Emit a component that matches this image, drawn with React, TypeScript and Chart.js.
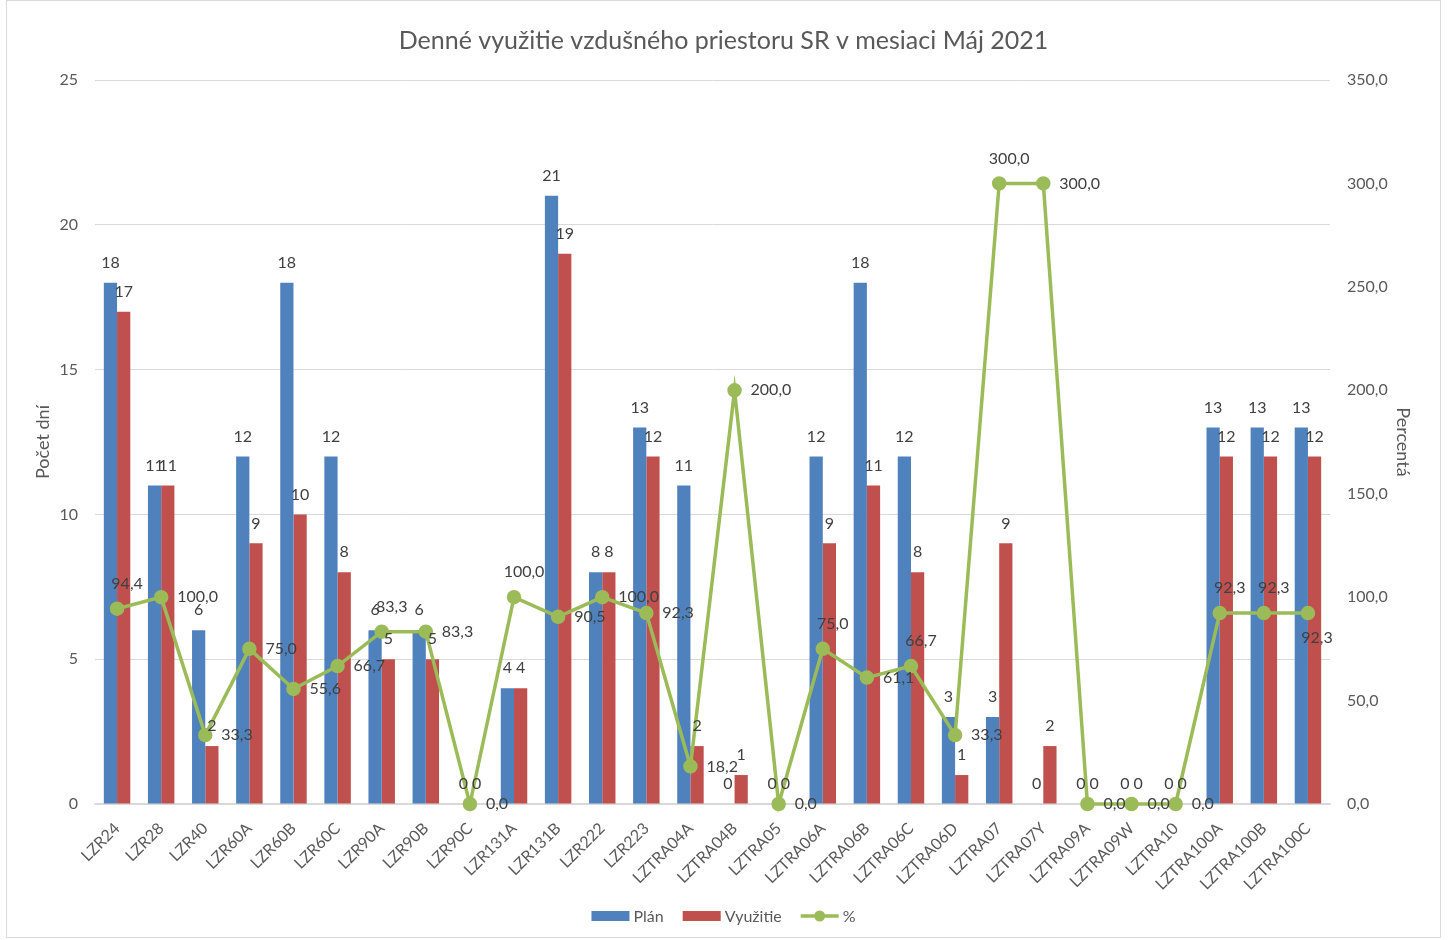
import React, { useEffect, useRef } from "react";
import { Chart, registerables } from "chart.js";

Chart.register(...registerables);

const TITLE = "Denné využitie vzdušného priestoru SR v mesiaci Máj 2021";
const LEFT_AXIS_TITLE = "Počet dní";
const RIGHT_AXIS_TITLE = "Percentá";

const CATEGORIES = [
  "LZR24", "LZR28", "LZR40", "LZR60A", "LZR60B", "LZR60C", "LZR90A", "LZR90B",
  "LZR90C", "LZR131A", "LZR131B", "LZR222", "LZR223", "LZTRA04A", "LZTRA04B",
  "LZTRA05", "LZTRA06A", "LZTRA06B", "LZTRA06C", "LZTRA06D", "LZTRA07", "LZTRA07Y",
  "LZTRA09A", "LZTRA09W", "LZTRA10", "LZTRA100A", "LZTRA100B", "LZTRA100C",
];

const PLAN = [18, 11, 6, 12, 18, 12, 6, 6, 0, 4, 21, 8, 13, 11, 0, 0, 12, 18, 12, 3, 3, 0, 0, 0, 0, 13, 13, 13];
const VYUZITIE = [17, 11, 2, 9, 10, 8, 5, 5, 0, 4, 19, 8, 12, 2, 1, 0, 9, 11, 8, 1, 9, 2, 0, 0, 0, 12, 12, 12];
const PERCENT = [94.4, 100.0, 33.3, 75.0, 55.6, 66.7, 83.3, 83.3, 0.0, 100.0, 90.5, 100.0, 92.3, 18.2, 200.0, 0.0, 75.0, 61.1, 66.7, 33.3, 300.0, 300.0, 0.0, 0.0, 0.0, 92.3, 92.3, 92.3];

// where each % label sits relative to its point
const PERCENT_LABEL_PLACE = [
  "above", "right", "right", "right", "right", "right", "above", "right",
  "right", "above", "right", "right", "right", "right", "right",
  "right", "above", "right", "above", "right", "above", "right",
  "right", "right", "right", "above", "above", "below",
];

const LEFT_MAX = 25;
const LEFT_STEP = 5;
const RIGHT_MAX = 350;
const RIGHT_STEP = 50;

const SERIES_NAMES = ["Plán", "Využitie", "%"];
const COLORS = ["#4F81BD", "#C0504D", "#9BBB59"];

const FONT = "Lato, 'Open Sans', sans-serif";
const TEXT = "#595959";
const LABEL = "#404040";
const GRID = "#d9d9d9";

const fmt1 = (v: number) => v.toFixed(1).replace(".", ",");

const overlayPlugin = {
  id: "overlay",
  afterDatasetsDraw(chart: any) {
    const ctx = chart.ctx;
    ctx.save();
    ctx.font = `16px ${FONT}`;
    ctx.fillStyle = LABEL;
    ctx.textBaseline = "middle";
    // bar labels
    for (let d = 0; d < 2; d++) {
      const meta = chart.getDatasetMeta(d);
      const data = chart.data.datasets[d].data as number[];
      meta.data.forEach((el: any, i: number) => {
        ctx.textAlign = "center";
        ctx.fillText(String(data[i]), el.x, el.y - 20);
      });
    }
    // line labels
    const lmeta = chart.getDatasetMeta(2);
    const ldata = chart.data.datasets[2].data as number[];
    lmeta.data.forEach((el: any, i: number) => {
      const place = PERCENT_LABEL_PLACE[i];
      const txt = fmt1(ldata[i]);
      if (place === "above") {
        ctx.textAlign = "center";
        ctx.fillText(txt, el.x + 10, el.y - 25);
      } else if (place === "below") {
        ctx.textAlign = "center";
        ctx.fillText(txt, el.x + 9, el.y + 25);
      } else {
        ctx.textAlign = "left";
        ctx.fillText(txt, el.x + 16, el.y);
      }
    });
    ctx.restore();
  },
  afterDraw(chart: any) {
    const ctx = chart.ctx;
    const W = chart.width;
    ctx.save();
    // title
    ctx.fillStyle = TEXT;
    ctx.font = `25px ${FONT}`;
    ctx.textAlign = "center";
    ctx.textBaseline = "middle";
    ctx.fillText(TITLE, W / 2, 40);

    // axis titles
    ctx.font = `18px ${FONT}`;
    ctx.save();
    ctx.translate(36, 441);
    ctx.rotate(-Math.PI / 2);
    ctx.fillText(LEFT_AXIS_TITLE, 0, 0);
    ctx.restore();
    ctx.save();
    ctx.translate(1396, 441);
    ctx.rotate(Math.PI / 2);
    ctx.fillText(RIGHT_AXIS_TITLE, 0, 0);
    ctx.restore();

    // legend
    ctx.font = `16px ${FONT}`;
    ctx.textAlign = "left";
    const box = 38;
    const gap = 4;
    const itemGap = 19;
    const widths = SERIES_NAMES.map((n) => box + gap + ctx.measureText(n).width);
    const total = widths.reduce((a, b) => a + b, 0) + itemGap * (SERIES_NAMES.length - 1);
    let x = W / 2 - total / 2;
    const y = 915;
    SERIES_NAMES.forEach((name, i) => {
      ctx.fillStyle = COLORS[i];
      ctx.strokeStyle = COLORS[i];
      if (i < 2) {
        ctx.fillRect(x, y - 5, box, 10);
      } else {
        ctx.lineWidth = 3.5;
        ctx.beginPath();
        ctx.moveTo(x, y);
        ctx.lineTo(x + box, y);
        ctx.stroke();
        ctx.beginPath();
        ctx.arc(x + box / 2, y, 5.5, 0, Math.PI * 2);
        ctx.fill();
      }
      ctx.fillStyle = TEXT;
      ctx.fillText(name, x + box + gap, y + 1);
      x += widths[i] + itemGap;
    });
    ctx.restore();
  },
};

export default function App() {
  const ref = useRef<HTMLCanvasElement | null>(null);

  useEffect(() => {
    if (!ref.current) return;
    const chart = new Chart(ref.current, {
      type: "bar",
      data: {
        labels: CATEGORIES,
        datasets: [
          {
            type: "bar",
            label: SERIES_NAMES[0],
            data: PLAN,
            backgroundColor: COLORS[0],
            yAxisID: "y",
            order: 1,
            categoryPercentage: 0.6,
            barPercentage: 1,
          },
          {
            type: "bar",
            label: SERIES_NAMES[1],
            data: VYUZITIE,
            backgroundColor: COLORS[1],
            yAxisID: "y",
            order: 1,
            categoryPercentage: 0.6,
            barPercentage: 1,
          },
          {
            type: "line",
            label: SERIES_NAMES[2],
            data: PERCENT,
            borderColor: COLORS[2],
            backgroundColor: COLORS[2],
            borderWidth: 3.5,
            pointRadius: 5.5,
            pointBackgroundColor: COLORS[2],
            pointBorderColor: COLORS[2],
            tension: 0,
            yAxisID: "y2",
            order: 0,
            clip: false,
          } as any,
        ],
      },
      options: {
        animation: false,
        responsive: false,
        devicePixelRatio: 1,
        layout: { padding: { top: 79, left: 0, right: 0, bottom: 0 } },
        plugins: {
          legend: { display: false },
          title: { display: false },
          tooltip: { enabled: false },
        },
        scales: {
          x: {
            offset: true,
            grid: { display: false },
            border: { display: true, color: GRID, width: 1.5 },
            ticks: {
              autoSkip: false,
              maxRotation: 45,
              minRotation: 45,
              padding: 7,
              color: TEXT,
              font: { family: FONT, size: 16 },
            },
            afterFit: (s: any) => {
              s.height = 133;
            },
          },
          y: {
            position: "left",
            min: 0,
            max: LEFT_MAX,
            ticks: {
              stepSize: LEFT_STEP,
              padding: 17,
              color: TEXT,
              font: { family: FONT, size: 16 },
            },
            grid: { color: GRID, lineWidth: 1, drawTicks: false },
            border: { display: false },
            afterFit: (s: any) => {
              s.width = 88;
            },
          },
          y2: {
            position: "right",
            min: 0,
            max: RIGHT_MAX,
            ticks: {
              stepSize: RIGHT_STEP,
              padding: 17,
              color: TEXT,
              font: { family: FONT, size: 16 },
              callback: (v: any) => fmt1(Number(v)),
            },
            grid: { display: false, drawTicks: false },
            border: { display: false },
            afterFit: (s: any) => {
              s.width = 110;
            },
          },
        },
      },
      plugins: [overlayPlugin],
    });
    return () => chart.destroy();
  }, []);

  return (
    <div
      style={{
        position: "absolute",
        left: 6,
        top: 0,
        width: 1435,
        height: 938,
        boxSizing: "border-box",
        border: "1px solid #d9d9d9",
        background: "#fff",
      }}
    >
      <canvas ref={ref} width={1433} height={936} style={{ display: "block", width: 1433, height: 936 }} />
    </div>
  );
}
